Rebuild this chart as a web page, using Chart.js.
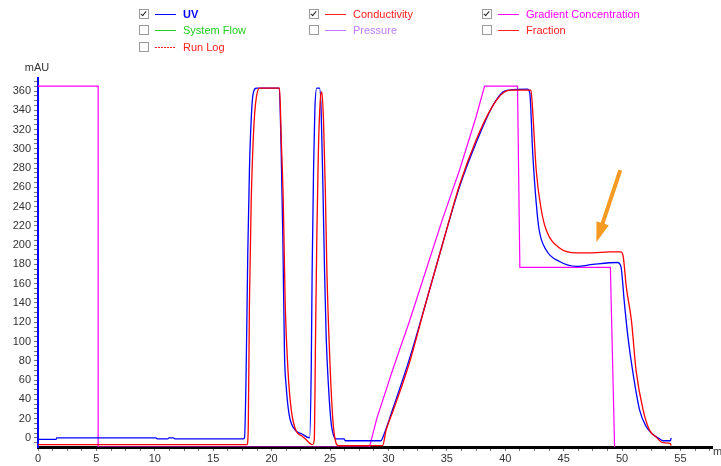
<!DOCTYPE html>
<html>
<head>
<meta charset="utf-8">
<title>UV / Conductivity / Gradient</title>
<script src="https://cdn.jsdelivr.net/npm/chart.js@4.4.1/dist/chart.umd.min.js"></script>
<style>
    html, body {
        margin: 0;
        padding: 0;
        background: #fff;
    }
    #wrap {
        position: relative;
        width: 721px;
        height: 466px;
        font-family: "Liberation Sans", Arial, sans-serif;
    }
    #legend .item {
        position: absolute;
        height: 12px;
        font-size: 11px;
        line-height: 12px;
        white-space: nowrap;
    }
    #legend .box {
        position: absolute;
        left: 0;
        top: 1px;
        width: 8px;
        height: 8px;
        border: 1px solid #9a9a9a;
        background: #fff;
    }
    #legend .box.on::after {
        content: '';
        position: absolute;
        left: 2px;
        top: 0px;
        width: 2px;
        height: 5px;
        border-right: 1.5px solid #222;
        border-bottom: 1.5px solid #222;
        transform: rotate(40deg);
    }
    #legend .swatch {
        position: absolute;
        left: 16px;
        top: 6px;
        width: 21px;
        height: 1px;
    }
    #legend .label {
        position: absolute;
        left: 44px;
        top: 0;
    }
</style>
</head>
<body>
<div id="wrap">
    <canvas id="chroma"></canvas>
    <div id="legend"></div>
</div>
<script>
(function () {
    'use strict';

    // UV trace (mAU) against time (min)
    var uvTime = [
        0, 1.55, 1.6, 10.1, 10.2, 11.1, 11.2, 11.6, 11.7, 17.55,
        17.68, 17.82, 17.96, 18.1, 18.25, 18.4, 18.7, 20.65, 20.82, 20.96,
        21.1, 21.25, 21.5, 21.95, 22.6, 23.25, 23.39, 23.47, 23.59, 23.7,
        23.87, 24.1, 24.24, 24.39, 24.53, 24.67, 24.87, 25.1, 25.38, 25.45,
        26.2, 26.3, 29.35, 29.6, 30.4, 31.8, 33.2, 34.65, 36.1, 37.5,
        38.9, 39.8, 40.4, 41.9, 42.1, 42.35, 42.65, 42.9, 43.5, 44.65,
        46.1, 47.5, 49.6, 49.9, 50.2, 50.5, 50.9, 51.5, 52.05, 52.6,
        53.2, 53.5, 54.15, 54.2
    ];
    var uvValue = [
        -1.5, -1.5, 0, 0, -1, -1, 0, 0, -1, -1,
        0, 70, 192, 278, 330, 356, 363, 363, 296, 209,
        88, 53, 24, 9, 4, 0, 70, 174, 278, 340,
        363, 363, 340, 261, 174, 105, 53, 15, 0, -1,
        -1, -3, -3, 3, 31, 82, 140, 202, 261, 306,
        344, 359, 361, 362, 358, 296, 244, 216, 195, 183,
        178, 180, 182, 178, 140, 105, 70, 29, 12, 4,
        -1, -3, -3, 0
    ];

    // Conductivity trace
    var condTime = [
        0, 17.9, 18.0, 18.1, 18.25, 18.4, 18.55, 18.7, 18.95, 20.68,
        20.82, 21.0, 21.16, 21.4, 21.68, 22.1, 22.6, 22.96, 23.3, 23.5,
        23.65, 23.76, 23.87, 24.0, 24.19, 24.3, 24.44, 24.59, 24.73, 24.96,
        25.24, 25.5, 25.7, 29.5, 29.8, 30.4, 31.8, 33.2, 34.65, 36.1,
        37.5, 38.9, 39.8, 40.4, 42.2, 42.36, 42.65, 43.08, 43.5, 44.65,
        46.1, 47.5, 48.9, 49.9, 50.1, 50.36, 50.8, 51.2, 51.8, 52.35,
        52.9, 53.5, 54.15, 54.2
    ];
    var condValue = [
        -7, -7, 10, 140, 244, 302, 337, 354, 363, 363,
        312, 244, 140, 70, 29, 7, 2, -2, -6, -7,
        -2, 105, 209, 296, 354, 359, 330, 261, 174, 88,
        19, -5, -8, -8, 8, 28, 78, 140, 202, 263,
        309, 344, 358, 361, 361, 337, 278, 237, 216, 197,
        192, 192, 193, 193, 188, 157, 122, 70, 29, 8,
        1, -5, -6, -8
    ];

    // Gradient concentration, drawn on the same mAU scale
    var gradTime = [
        0, 5.15, 5.15, 28.38, 29.0, 30.4, 31.8, 33.24, 34.66, 36.09,
        37.5, 38.23, 41.05, 41.25, 49.0, 49.36
    ];
    var gradValue = [
        365, 365, -9.5, -9.5, 20, 72, 121, 175, 228, 278,
        333, 365, 365, 177, 177, -9.5
    ];

    // Axis tick values: labelled majors plus unlabelled minors
    var xMajorTicks = [0, 5, 10, 15, 20, 25, 30, 35, 40, 45, 50, 55];
    var yMajorTicks = [0, 20, 40, 60, 80, 100, 120, 140, 160, 180, 200, 220, 240, 260, 280, 300, 320, 340, 360];
    var xMinorStep = 1.25;
    var yMinorStep = 5;

    // Annotation arrow pointing at the conductivity plateau (time, mAU)
    var arrowTail = [49.85, 278];
    var arrowTip = [47.8, 203];

    var legendItems = [
        { label: 'UV', color: '#0000ff', checked: true, col: 0, row: 0, bold: true },
        { label: 'Conductivity', color: '#ff2020', checked: true, col: 1, row: 0 },
        { label: 'Gradient Concentration', color: '#ff00ff', checked: true, col: 2, row: 0 },
        { label: 'System Flow', color: '#22cc22', checked: false, col: 0, row: 1 },
        { label: 'Pressure', color: '#c07cff', checked: false, col: 1, row: 1 },
        { label: 'Fraction', color: '#ff2020', checked: false, col: 2, row: 1 },
        { label: 'Run Log', color: '#ff2020', checked: false, col: 0, row: 2, dashed: true }
    ];

    var X_MIN = 0, X_MAX = 57.7;
    var Y_MIN = -9.5, Y_MAX = 373.5;

    function toPoints(xs, ys) {
        var out = [];
        for (var i = 0; i < xs.length; i++) {
            out.push({ x: xs[i], y: ys[i] });
        }
        return out;
    }

    function tickList(min, max, step) {
        var out = [];
        var start = Math.ceil(min / step) * step;
        for (var v = start; v <= max + 1e-9; v += step) {
            out.push({ value: Math.round(v * 100) / 100 });
        }
        return out;
    }

    function buildLegend() {
        var host = document.getElementById('legend');
        var colX = [139, 309, 482];
        var rowY = [8, 24, 41];
        legendItems.forEach(function (it) {
            var d = document.createElement('div');
            d.className = 'item';
            d.style.left = colX[it.col] + 'px';
            d.style.top = rowY[it.row] + 'px';
            var box = document.createElement('span');
            box.className = 'box' + (it.checked ? ' on' : '');
            var sw = document.createElement('span');
            sw.className = 'swatch';
            if (it.dashed) {
                sw.style.background = 'repeating-linear-gradient(90deg, ' + it.color +
                    ' 0 2px, transparent 2px 3px)';
            } else {
                sw.style.background = it.color;
            }
            var lb = document.createElement('span');
            lb.className = 'label';
            lb.textContent = it.label;
            lb.style.color = it.color;
            if (it.bold) {
                lb.style.fontWeight = 'bold';
            }
            d.appendChild(box);
            d.appendChild(sw);
            d.appendChild(lb);
            host.appendChild(d);
        });
    }

    var decorations = {
        id: 'decorations',
        afterDraw: function (chart) {
            var ctx = chart.ctx;
            var area = chart.chartArea;
            var xs = chart.scales.x;
            var ys = chart.scales.y;
            ctx.save();
            ctx.fillStyle = '#333';
            ctx.font = '11px "Liberation Sans", Arial, sans-serif';
            ctx.textAlign = 'center';
            ctx.textBaseline = 'middle';
            ctx.fillText('mAU', area.left - 1, area.top - 10);
            ctx.textAlign = 'left';
            ctx.fillText('m', area.right + 1, area.bottom + 5);

            // orange arrow
            var tx = xs.getPixelForValue(arrowTail[0]), ty = ys.getPixelForValue(arrowTail[1]);
            var hx = xs.getPixelForValue(arrowTip[0]), hy = ys.getPixelForValue(arrowTip[1]);
            var ang = Math.atan2(hy - ty, hx - tx);
            var headLen = 20, headHalf = 6.5;
            var bx = hx - headLen * Math.cos(ang), by = hy - headLen * Math.sin(ang);
            ctx.strokeStyle = '#f59a23';
            ctx.fillStyle = '#f59a23';
            ctx.lineWidth = 4;
            ctx.beginPath();
            ctx.moveTo(tx, ty);
            ctx.lineTo(bx + 2 * Math.cos(ang), by + 2 * Math.sin(ang));
            ctx.stroke();
            ctx.beginPath();
            ctx.moveTo(hx, hy);
            ctx.lineTo(bx + headHalf * Math.sin(ang), by - headHalf * Math.cos(ang));
            ctx.lineTo(bx - headHalf * Math.sin(ang), by + headHalf * Math.cos(ang));
            ctx.closePath();
            ctx.fill();
            ctx.restore();
        }
    };

    function initChart() {
        buildLegend();
        var canvas = document.getElementById('chroma');
        var tickFont = { family: '"Liberation Sans", Arial, sans-serif', size: 11 };

        new Chart(canvas, {
            type: 'line',
            data: {
                datasets: [{
                    label: 'Conductivity',
                    data: toPoints(condTime, condValue),
                    borderColor: '#ff0000',
                    borderWidth: 1.3,
                    pointRadius: 0,
                    cubicInterpolationMode: 'monotone',
                    order: 0
                }, {
                    label: 'UV',
                    data: toPoints(uvTime, uvValue),
                    borderColor: '#0000ff',
                    borderWidth: 1.3,
                    pointRadius: 0,
                    cubicInterpolationMode: 'monotone',
                    order: 1
                }, {
                    label: 'Gradient Concentration',
                    data: toPoints(gradTime, gradValue),
                    borderColor: '#ff00ff',
                    borderWidth: 1.2,
                    pointRadius: 0,
                    tension: 0,
                    order: 2
                }]
            },
            options: {
                responsive: true,
                maintainAspectRatio: false,
                animation: false,
                events: [],
                layout: {
                    padding: { top: 78, right: 9, bottom: 0, left: 0 }
                },
                plugins: {
                    legend: { display: false },
                    tooltip: { enabled: false }
                },
                scales: {
                    x: {
                        type: 'linear',
                        min: X_MIN,
                        max: X_MAX,
                        z: 1,
                        afterFit: function (scale) {
                            scale.height = 19;
                        },
                        afterBuildTicks: function (scale) {
                            scale.ticks = tickList(X_MIN, X_MAX, xMinorStep);
                        },
                        border: { color: '#000', width: 3 },
                        grid: {
                            drawOnChartArea: false,
                            drawTicks: true,
                            tickLength: 4,
                            tickColor: '#777'
                        },
                        ticks: {
                            autoSkip: false,
                            maxRotation: 0,
                            padding: 1,
                            color: '#333',
                            font: tickFont,
                            callback: function (v) {
                                return xMajorTicks.indexOf(v) >= 0 ? String(v) : '';
                            }
                        }
                    },
                    y: {
                        type: 'linear',
                        min: Y_MIN,
                        max: Y_MAX,
                        z: 1,
                        afterFit: function (scale) {
                            scale.width = 38;
                        },
                        afterBuildTicks: function (scale) {
                            scale.ticks = tickList(Y_MIN, Y_MAX, yMinorStep);
                        },
                        border: { color: '#0000ff', width: 2 },
                        grid: {
                            drawOnChartArea: false,
                            drawTicks: true,
                            tickLength: 4,
                            tickColor: '#777'
                        },
                        ticks: {
                            autoSkip: false,
                            padding: 3,
                            color: '#333',
                            font: tickFont,
                            callback: function (v) {
                                return yMajorTicks.indexOf(v) >= 0 ? String(v) : '';
                            }
                        }
                    }
                }
            },
            plugins: [decorations]
        });
    }

    if (document.readyState === 'loading') {
        document.addEventListener('DOMContentLoaded', initChart);
    } else {
        initChart();
    }
})();
</script>
</body>
</html>
